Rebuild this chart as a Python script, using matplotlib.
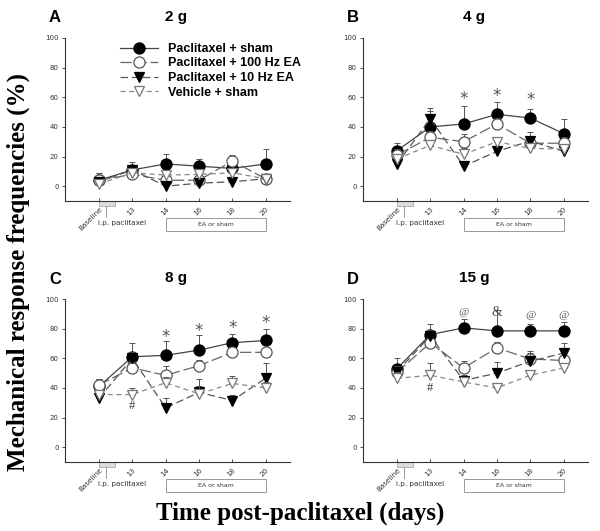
import matplotlib
matplotlib.use("Agg")
import matplotlib.pyplot as plt
import numpy as np
from matplotlib.patches import Rectangle
import matplotlib.transforms as mtransforms

days = ["Baseline", "13", "14", "16", "18", "20"]
series_names = ["Paclitaxel + sham", "Paclitaxel + 100 Hz EA",
                "Paclitaxel + 10 Hz EA", "Vehicle + sham"]

panel_letters = ["A", "B", "C", "D"]
panel_titles = ["2 g", "4 g", "8 g", "15 g"]

# Means per panel: [sham, 100Hz, 10Hz, vehicle]
means_A = [[4, 11, 15, 13.5, 12, 15],
           [4, 8, 4, 4, 17, 5],
           [3, 11, 0, 2, 3, 5],
           [1.5, 9, 7.5, 8, 9, 5]]
errs_A = [[5, 5, 7, 5, 4, 10],
          [5, 3, 3, 3, 4, 3],
          [2, 3, 2, 2, 2, 2],
          [2, 3, 3, 3, 3, 2]]

means_B = [[24, 40, 42, 48.5, 46, 35.5],
           [21, 33, 30, 42, 29, 29],
           [15, 45.5, 13.5, 23.5, 30.5, 23.5],
           [18.5, 27.5, 21.5, 30, 25.5, 25]]
errs_B = [[5, 13, 12, 8, 6, 10],
          [4, 4, 5, 4, 3, 4],
          [3, 5, 3, 3, 6, 3],
          [3, 3, 4, 3, 3, 3]]

means_C = [[41, 61, 62, 65.5, 70.5, 72],
           [42, 53.5, 48.5, 55, 64, 64],
           [33, 60, 26.5, 37, 31.5, 46.5],
           [35.5, 35.5, 43.5, 36, 43, 40]]
errs_C = [[5, 9, 9.5, 10, 6, 8],
          [4, 4, 6, 4, 3, 3],
          [3, 4, 7, 4, 4, 10],
          [3, 4.5, 4, 10, 5, 4]]

means_D = [[53, 76, 80.5, 78.5, 78.5, 78.5],
           [50.5, 70.5, 53.5, 67, 59.5, 58.5],
           [51, 75, 45, 50, 58, 63.5],
           [46.5, 48.5, 44, 40, 48.5, 53.5]]
errs_D = [[7, 7, 6, 14, 4.5, 6],
          [4, 4, 4.5, 4, 4, 4],
          [4, 4, 4, 7.5, 7, 7],
          [4, 8, 3, 3, 3, 3]]

all_means = [means_A, means_B, means_C, means_D]
all_errs = [errs_A, errs_B, errs_C, errs_D]

# Significance marks: (x index, y value, symbol)
marks_A = []
marks_B = [(2, 59, "*"), (3, 61, "*"), (4, 58, "*")]
marks_C = [(2, 74.5, "*"), (3, 78.5, "*"), (4, 80.5, "*"), (5, 84, "*"), (1, 27.5, "#")]
marks_D = [(2, 91, "@"), (3, 91, "&"), (4, 89, "@"), (5, 89, "@"), (1, 40, "#")]
all_marks = [marks_A, marks_B, marks_C, marks_D]

styles = [
    dict(marker="o", ms=8, mfc="black", mec="black", color="#444444", ls="-"),
    dict(marker="o", ms=8, mfc="white", mec="#555555", color="#666666", ls=(0, (9, 3))),
    dict(marker="v", ms=7.5, mfc="black", mec="black", color="#555555", ls=(0, (6, 3))),
    dict(marker="v", ms=7.5, mfc="white", mec="#777777", color="#888888", ls=(0, (4, 3))),
]
zorders = [3, 4, 5, 6]

fig = plt.figure(figsize=(6.0, 5.31), dpi=100)
W, H = 600, 531
ax_boxes = [(65, 38), (363, 38), (65, 299), (363, 299)]  # left px, top px
aw, ah = 225, 163

x = np.arange(len(days))
axes = []
for i, (lx, ty) in enumerate(ax_boxes):
    ax = fig.add_axes([lx / W, (H - ty - ah) / H, aw / W, ah / H])
    axes.append(ax)
    means = all_means[i]
    errs = all_errs[i]
    for k in range(4):
        st = styles[k]
        m = np.array(means[k])
        e = np.array(errs[k])
        ax.errorbar(x, m, yerr=[np.zeros_like(e), e], fmt="none",
                    ecolor="#555555", elinewidth=0.7, capsize=2, capthick=0.7,
                    zorder=zorders[k] - 0.5)
        ax.plot(x, m, marker=st["marker"], markersize=st["ms"], mfc=st["mfc"],
                mec=st["mec"], mew=0.9, color=st["color"], ls=st["ls"], lw=0.9,
                zorder=zorders[k], label=series_names[k])
    for (xi, yv, sym) in all_marks[i]:
        if sym == "@":
            ax.text(xi, yv, sym, ha="center", va="center", fontsize=8,
                    family="Liberation Serif", style="italic", color="#555555")
        elif sym == "&":
            ax.text(xi, yv, sym, ha="center", va="center", fontsize=10,
                    family="Liberation Serif", color="#555555")
        elif sym == "*":
            ax.text(xi, yv, sym, ha="center", va="center", fontsize=12,
                    family="DejaVu Sans", color="#555555")
        else:
            ax.text(xi, yv, sym, ha="center", va="center", fontsize=9,
                    family="Liberation Serif", color="#333333")

    ax.set_xlim(-1.02, 5.73)
    ax.set_ylim(-10, 100)
    ax.set_yticks([0, 20, 40, 60, 80, 100])
    ax.set_xticks(x)
    ax.set_xticklabels(days, rotation=45, ha="right", rotation_mode="anchor")
    ax.tick_params(axis="y", labelsize=5, length=2.5, width=0.6, pad=2,
                   colors="#333333")
    ax.tick_params(axis="x", labelsize=5.2, length=2, width=0.6, direction="in",
                   pad=3.5, colors="#333333")
    for s in ["top", "right"]:
        ax.spines[s].set_visible(False)
    for s in ["left", "bottom"]:
        ax.spines[s].set_linewidth(0.8)
        ax.spines[s].set_color("#333333")
    ax.spines["left"].set_bounds(-10, 100)

    trans = mtransforms.blended_transform_factory(ax.transData, ax.transAxes)
    # injection bar
    ax.add_patch(Rectangle((0.0, -0.028), 0.48, 0.028, transform=trans,
                           facecolor="#dddddd", edgecolor="#aaaaaa", lw=0.6,
                           clip_on=False))
    ax.plot([0.21, 0.21], [-0.028, -0.10], transform=trans, color="#888888",
            lw=0.6, clip_on=False)
    ax.text(-0.03, -0.135, "i.p. paclitaxel", transform=trans,
            fontsize=5.2, ha="left", va="center", color="#333333")
    # EA box
    ax.add_patch(Rectangle((2.0, -0.185), 3.0, 0.08, transform=trans,
                           facecolor="white", edgecolor="#999999", lw=0.7,
                           clip_on=False))
    ax.text(3.5, -0.145, "EA or sham", transform=trans, fontsize=4.5,
            ha="center", va="center", color="#333333")

    # panel letter and title
    fig.text((lx - 10) / W, 1 - (ty - 20) / H, panel_letters[i],
             fontsize=12, fontweight="bold", ha="center", va="center",
             family="Liberation Sans")
    fig.text((lx + 111) / W, 1 - (ty - 21) / H, panel_titles[i],
             fontsize=11, fontweight="bold", ha="center", va="center",
             family="Liberation Sans")

handles, labels = axes[0].get_legend_handles_labels()
leg = axes[0].legend(handles, labels,
                     loc="upper left", bbox_to_anchor=(120 / W, 1 - 43 / H),
                     bbox_transform=fig.transFigure, frameon=False,
                     prop=dict(family="Liberation Sans", weight="bold", size=9),
                     handlelength=3.0, handletextpad=0.8, labelspacing=0.2,
                     borderpad=0, borderaxespad=0)
leg.set_zorder(10)

fig.text(18 / W, 1 - 272 / H, "Mechanical response frequencies (%)",
         rotation=90, fontsize=18, fontweight="bold", family="Liberation Serif",
         ha="center", va="center")
fig.text(300 / W, 1 - 513 / H, "Time post-paclitaxel (days)",
         fontsize=18, fontweight="bold", family="Liberation Serif",
         ha="center", va="center")

fig.savefig("out.png", dpi=100)
